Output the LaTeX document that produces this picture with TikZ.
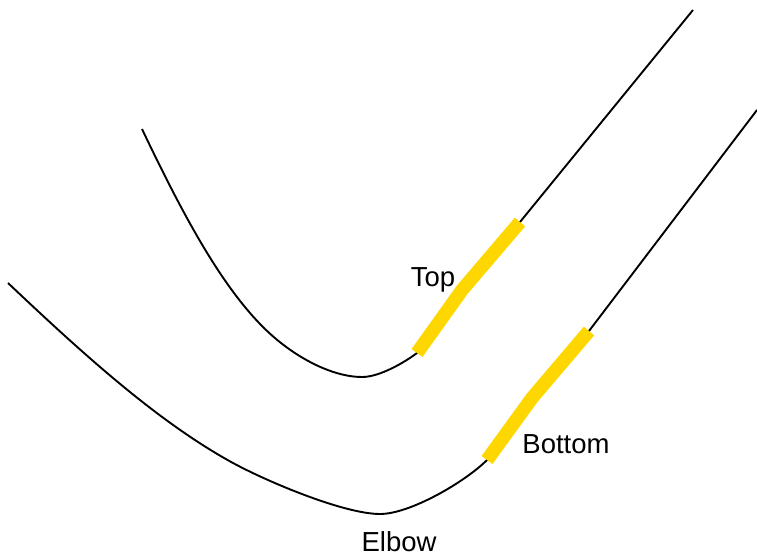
\documentclass[tikz,border=0pt]{standalone}
\usepackage{fontspec}
\setmainfont{Liberation Sans}
\definecolor{hl}{HTML}{FFD700}
\begin{document}
\begin{tikzpicture}[x=1pt,y=-1pt,
  pipe/.style={line width=1.9pt, black},
  band/.style={line width=13.5pt, hl, line cap=butt, line join=miter},
  lbl/.style={font=\fontsize{27.5}{32}\selectfont, anchor=base, inner sep=0pt}]
\useasboundingbox (0,0) rectangle (757,556);
% top curve
\draw[pipe] (142,129) .. controls (182,213) and (220,284) .. (263,327)
  .. controls (293,357) and (332,377) .. (362,377)
  .. controls (380,377) and (405,362) .. (417,353)
  -- (462,290) -- (520,222) -- (693,10);
% bottom curve
\draw[pipe] (8,283) .. controls (83,354) and (158,422) .. (233,463)
  .. controls (270,483) and (345,514) .. (380,514)
  .. controls (410,514) and (465,482) .. (487,460)
  -- (532,398) -- (589,331) -- (757,110);
% highlights
\draw[band] (417,353) -- (462,290) -- (520,222);
\draw[band] (487,460) -- (532,398) -- (589,331);
% labels
\node[lbl] (top) at (433,286) {Top};
\node[lbl] (bottom) at (566,453) {Bottom};
\node[lbl] (elbow) at (399,551) {Elbow};
\end{tikzpicture}
\end{document}
